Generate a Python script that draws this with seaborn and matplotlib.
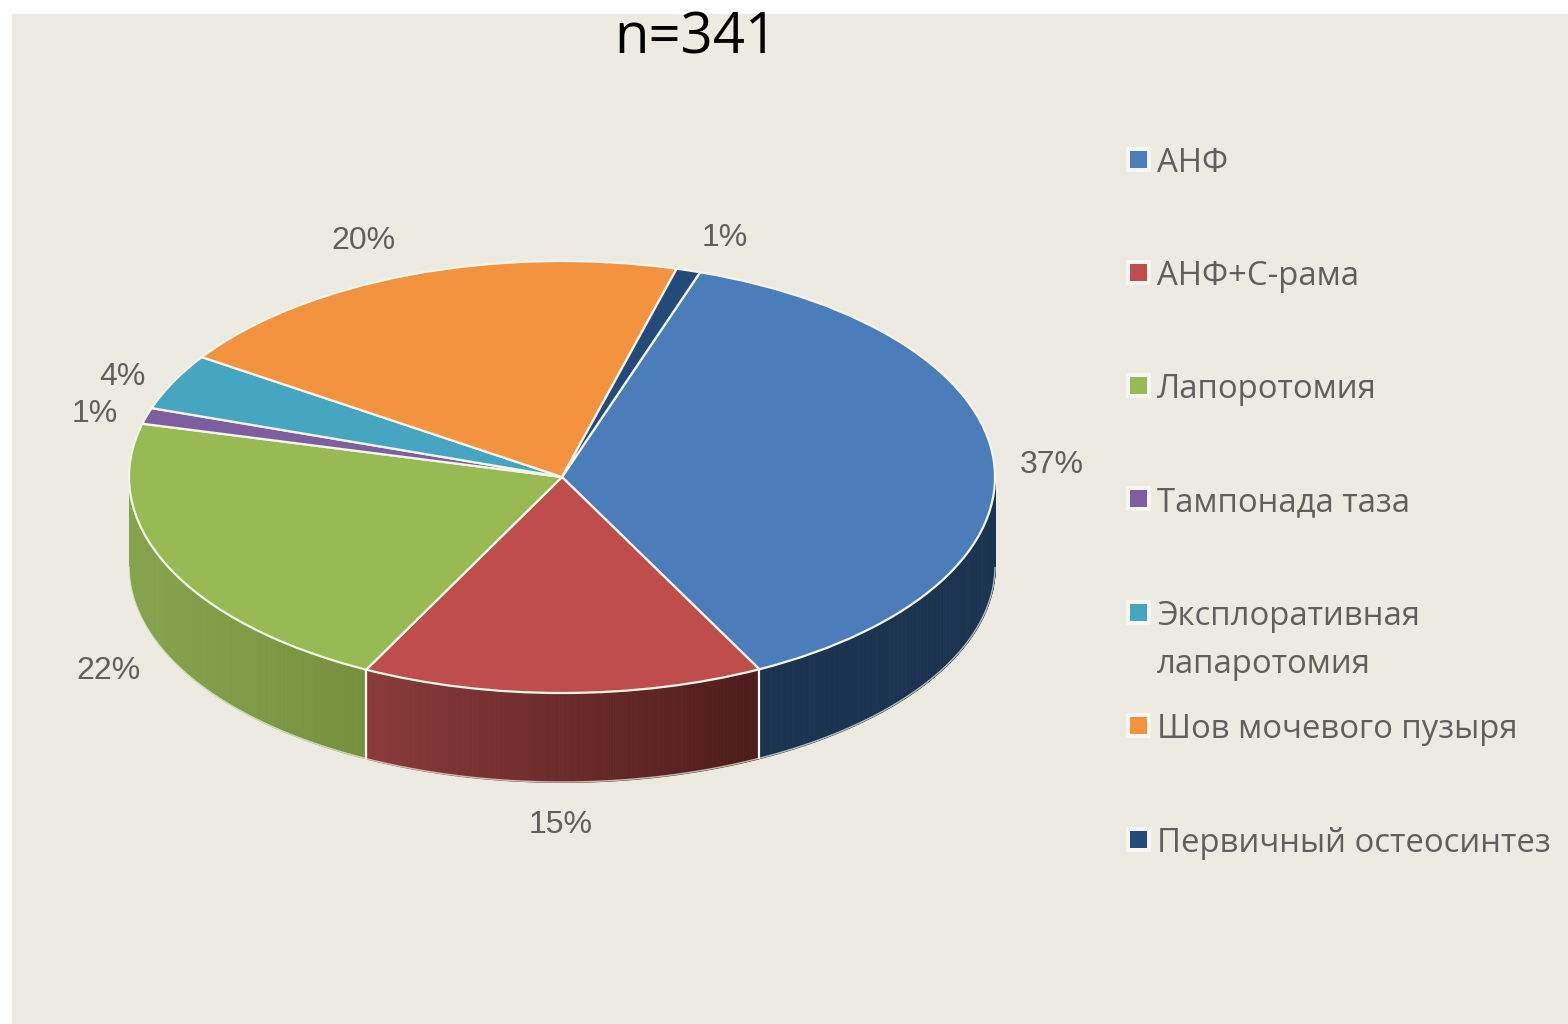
import numpy as np
import matplotlib
matplotlib.use("Agg")
import matplotlib.pyplot as plt
from matplotlib.colors import to_rgb
from matplotlib.patches import Rectangle
import seaborn as sns

categories = ["АНФ", "АНФ+С-рама", "Лапоротомия", "Тампонада таза",
              "Эксплоративная\nлапаротомия", "Шов мочевого пузыря", "Первичный остеосинтез"]
values = [37.3, 15.0, 21.5, 1.2, 4.2, 19.9, 0.9]
percent_labels = ["37%", "15%", "22%", "1%", "4%", "20%", "1%"]
top_colors = ["#4C7DBB", "#BE4D4B", "#97BA55", "#7D5FA0", "#46A6C2", "#F39340", "#234A78"]
wall_from = ["#1B3350", "#8A3A3A", "#86A44E", "#5A4272", "#2F7A90", "#B56A2A", "#1B3350"]
wall_to = ["#1B3350", "#4C1C1A", "#76903E", "#5A4272", "#2F7A90", "#B56A2A", "#1B3350"]

W, H = 1568, 1024
sns.set_theme(style="white")
plt.rcParams["font.family"] = ["Liberation Sans", "DejaVu Sans"]
palette = sns.color_palette(top_colors)

fig = plt.figure(figsize=(W / 100, H / 100), dpi=100, facecolor="white")
bg = fig.add_axes([0, 0, 1, 1])
bg.set_xlim(0, W); bg.set_ylim(H, 0); bg.axis("off")
bg.add_patch(Rectangle((12, 14), W - 12, H - 14, fc="#EDEAE2", ec="none"))

# pie axes: one data unit = rx px horizontally, ry px vertically
rx, ry, cx, cy, depth = 433, 216, 562, 477, 89
xl, xh, yl, yh = -1.3, 1.3, -1.8, 1.3
ax = fig.add_axes([(cx + xl * rx) / W, 1 - (cy - yl * ry) / H,
                   (xh - xl) * rx / W, (yh - yl) * ry / H])
ax.patch.set_alpha(0)

start = 71.4
ax.pie(values, colors=palette, startangle=start, counterclock=False, radius=1,
       normalize=True,
       wedgeprops=dict(edgecolor="#F4F6EC", linewidth=1.6, zorder=5))
ax.set_aspect("auto")
ax.set_xlim(xl, xh); ax.set_ylim(yl, yh)

# extruded side wall (front half of the rim only)
d = depth / ry
edges = start - np.cumsum([0] + values) / sum(values) * 360
for i in range(len(values)):
    a0, a1 = np.radians(edges[i]), np.radians(edges[i + 1])
    t = np.linspace(a0, a1, 160)
    c0, c1 = np.array(to_rgb(wall_from[i])), np.array(to_rgb(wall_to[i]))
    x, y = np.cos(t), np.sin(t)
    front = y <= 0
    if not front.any():
        continue
    x_f, y_f = x[front], y[front]
    lo, hi = x_f.min(), x_f.max()
    for j in range(len(x_f) - 1):
        f = (x_f[j] - lo) / max(hi - lo, 1e-6)
        col = c0 + (c1 - c0) * f
        ax.fill_between(x_f[j:j + 2], y_f[j:j + 2], y_f[j:j + 2] - d, color=col, lw=0.6, zorder=2)
    ax.plot(x_f, y_f - d, color="#F4F6EC", lw=1.0, zorder=3, alpha=0.7)
    if y[0] < 0:
        ax.plot([x[0], x[0]], [y[0], y[0] - d], color="#F4F6EC", lw=1.6, zorder=4)

# percent labels
label_pos = [(1052, 465), (561, 825), (108, 671), (95, 414), (122, 377), (363, 241), (725, 238)]
pos_x = [(p[0] - cx) / rx for p in label_pos]
pos_y = [(cy - p[1]) / ry for p in label_pos]
for s, px, py in zip(percent_labels, pos_x, pos_y):
    ax.text(px, py, s, ha="center", va="center", fontsize=23, color="#5F5F5F", zorder=6)

# legend
leg_y = [160, 273, 386, 499, 613, 726, 840]
for name, col, y in zip(categories, palette, leg_y):
    bg.add_patch(Rectangle((1126, y - 13), 25, 25, fc="#F6F6F4", ec="none", zorder=2))
    bg.add_patch(Rectangle((1130, y - 9), 17, 17, fc=col, ec="none", zorder=3))
    bg.text(1157, y - 13, name, ha="left", va="top", fontsize=23.7, color="#5F5F5F",
            family=["Open Sans", "DejaVu Sans"], linespacing=1.6, zorder=3)

bg.text(696, 39, "n=341", ha="center", va="center", fontsize=40.5, color="#000000",
        family=["Open Sans", "DejaVu Sans"], zorder=3)

fig.savefig("out.png", dpi=100, facecolor="white")
